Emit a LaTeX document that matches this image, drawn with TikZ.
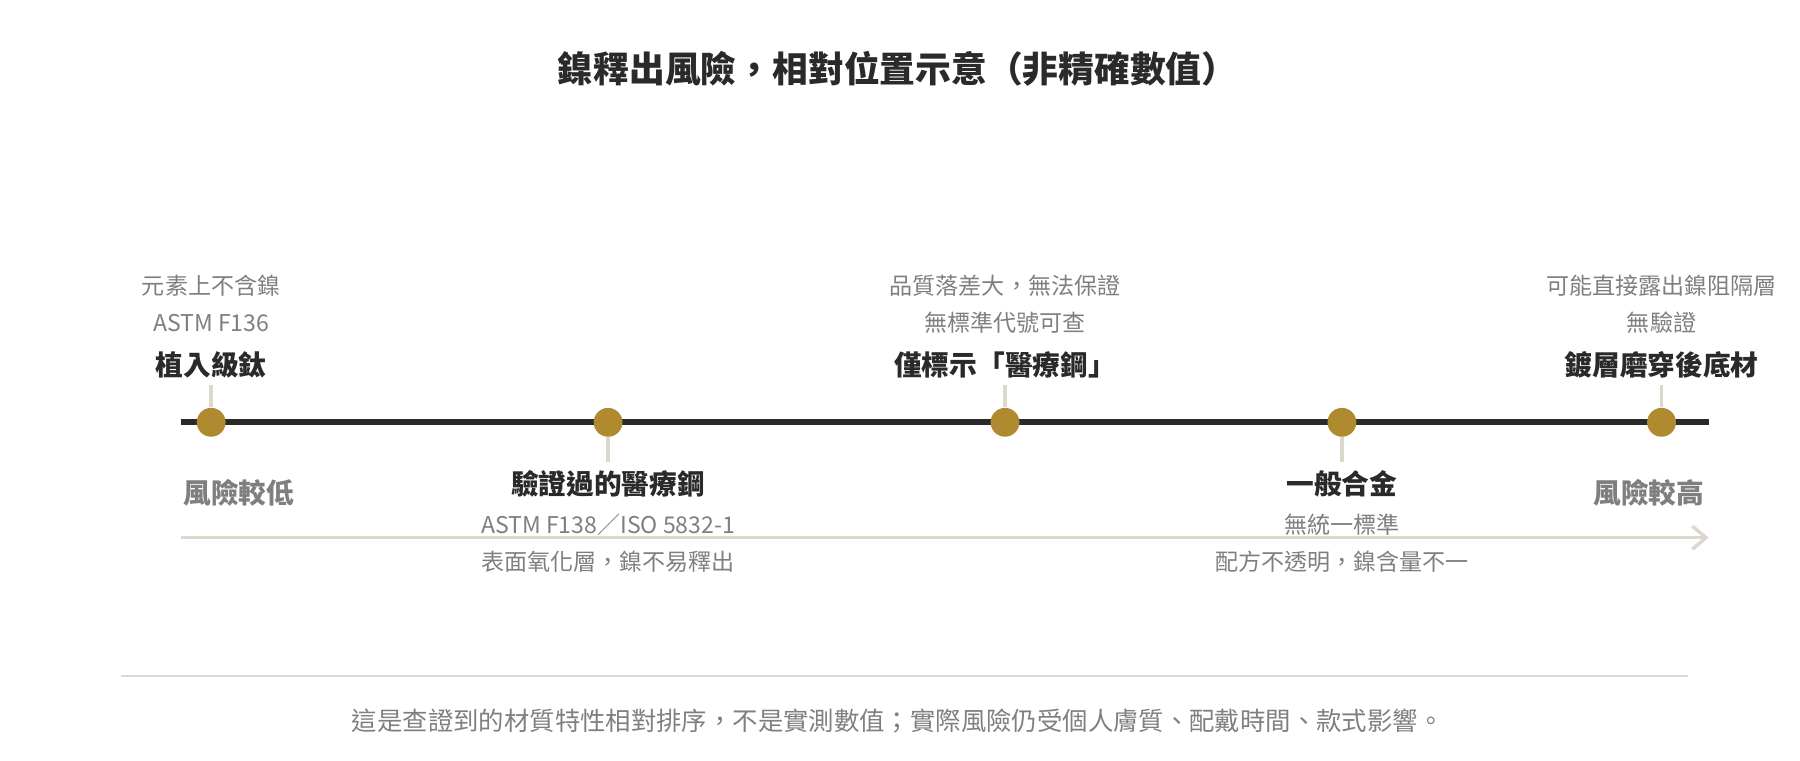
\documentclass[tikz,border=0pt]{standalone}
\usepackage{fontspec}
\setmainfont{Noto Sans CJK TC}
\usetikzlibrary{arrows.meta}
\definecolor{gold}{HTML}{B08A2E}
\definecolor{pale}{HTML}{DDD8CC}
\definecolor{dark}{HTML}{2A2A2A}
\definecolor{grey}{HTML}{7F7F7F}
\begin{document}
\begin{tikzpicture}[x=0.5pt,y=-0.5pt,
  title/.style={font=\fontsize{15.5pt}{18pt}\selectfont\bfseries,text=dark},
  lbl/.style={font=\fontsize{12pt}{14pt}\selectfont\bfseries,text=dark},
  sub/.style={font=\fontsize{10pt}{12pt}\selectfont,text=grey},
  end/.style={font=\fontsize{12pt}{14pt}\selectfont\bfseries,text=grey},
  dot/.style={circle,fill=gold,minimum size=12.5pt,inner sep=0pt},
  tick/.style={pale,line width=1.5pt}]
\useasboundingbox (0,0) rectangle (1560,659);
\node[title] (t) at (778,60) {鎳釋出風險，相對位置示意（非精確數值）};
\coordinate (l0) at (157,366); \coordinate (l1) at (1481,366);
\draw[dark,line width=2.5pt] (l0) -- (l1);
\coordinate (a0) at (157,466); \coordinate (a1) at (1481,466);
\draw[pale,line width=1.5pt,-{Straight Barb[length=6pt,width=10pt]}] (a0) -- (a1);
% ticks
\coordinate (u1) at (183,334); \coordinate (u3) at (871,334); \coordinate (u5) at (1440,334);
\coordinate (d2) at (527,400); \coordinate (d4) at (1163,400);
\node[dot] (p1) at (183,366) {}; \node[dot] (p2) at (527,366) {};
\node[dot] (p3) at (871,366) {}; \node[dot] (p4) at (1163,366) {};
\node[dot] (p5) at (1440,366) {};
\begin{scope}[on background layer/.try]\end{scope}
\draw[tick] (u1) -- (p1.north); \draw[tick] (u3) -- (p3.north); \draw[tick] (u5) -- (p5.north);
\draw[tick] (p2.south) -- (d2); \draw[tick] (p4.south) -- (d4);
% above labels
\node[sub] (s1a) at (183,248) {元素上不含鎳};
\node[sub] (s1b) at (183,280) {ASTM F136};
\node[lbl] (n1) at (183,316) {植入級鈦};
\node[sub] (s3a) at (871,248) {品質落差大，無法保證};
\node[sub] (s3b) at (871,280) {無標準代號可查};
\node[lbl] (n3) at (871,316) {僅標示「醫療鋼」};
\node[sub] (s5a) at (1440,248) {可能直接露出鎳阻隔層};
\node[sub] (s5b) at (1440,280) {無驗證};
\node[lbl] (n5) at (1440,316) {鍍層磨穿後底材};
% below labels
\node[lbl] (n2) at (527,419) {驗證過的醫療鋼};
\node[sub] (s2a) at (527,455) {ASTM F138／ISO 5832-1};
\node[sub] (s2b) at (527,487) {表面氧化層，鎳不易釋出};
\node[lbl] (n4) at (1163,419) {一般合金};
\node[sub] (s4a) at (1163,455) {無統一標準};
\node[sub] (s4b) at (1163,487) {配方不透明，鎳含量不一};
\node[end,anchor=west] (lo) at (152,427) {風險較低};
\node[end,anchor=east] (hi) at (1484,427) {風險較高};
\coordinate (f0) at (105,586); \coordinate (f1) at (1463,586);
\draw[pale,line width=1pt] (f0) -- (f1);
\node[font=\fontsize{11pt}{13pt}\selectfont,text=grey] (foot) at (778,625) {這是查證到的材質特性相對排序，不是實測數值；實際風險仍受個人膚質、配戴時間、款式影響。};
\end{tikzpicture}
\end{document}
